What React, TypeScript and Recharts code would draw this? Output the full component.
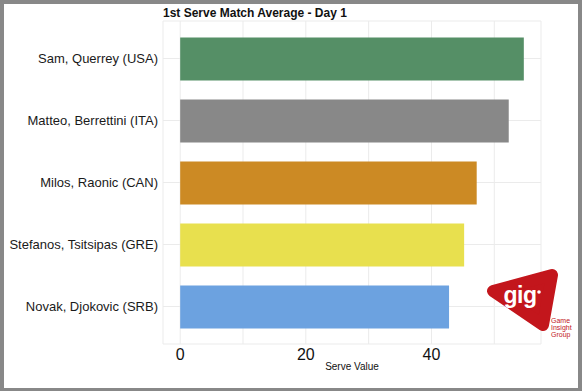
import { Bar, BarChart, CartesianGrid, Cell, XAxis, YAxis } from "recharts";

const players = [
  "Sam, Querrey (USA)",
  "Matteo, Berrettini (ITA)",
  "Milos, Raonic (CAN)",
  "Stefanos, Tsitsipas (GRE)",
  "Novak, Djokovic (SRB)",
];
const serveValues = [54.7, 52.3, 47.2, 45.2, 42.8];
const barColors = ["#558f66", "#888888", "#cc8a24", "#e8e04e", "#6ca2e0"];
const xTicks = [0, 10, 20, 30, 40, 50];
const labelledTicks = [0, 20, 40];

const FONT = "'Liberation Sans', Arial, sans-serif";

const data = players.map((name, i) => ({ name, value: serveValues[i] }));

// single-line category label, recharts wraps long ones otherwise
function PlayerTick(props: any) {
  const { x, y, payload } = props;
  return (
    <text
      x={x}
      y={y}
      dy="0.35em"
      textAnchor="end"
      fill="#1a1a1a"
      fontSize={13}
      fontFamily={FONT}
    >
      {payload.value}
    </text>
  );
}

function GigLogo() {
  return (
    <svg
      width={582}
      height={391}
      style={{ position: "absolute", left: 0, top: 0, pointerEvents: "none" }}
    >
      <path
        d="M493 291 L552 275 L543 325 Z"
        fill="#c3161c"
        stroke="#c3161c"
        strokeWidth={12}
        strokeLinejoin="round"
      />
      <text
        x={520}
        y={303}
        textAnchor="middle"
        fill="#fff"
        fontFamily={FONT}
        fontWeight="bold"
        fontSize={23}
        letterSpacing={-0.5}
      >
        gig
      </text>
      <circle cx={539} cy={292} r={1.8} fill="#fff" />
      <g fill="#c3161c" fontFamily={FONT} fontSize={7}>
        <text x={551} y={323}>Game</text>
        <text x={551} y={330}>Insight</text>
        <text x={551} y={337}>Group</text>
      </g>
    </svg>
  );
}

export default function App() {
  return (
    <div
      style={{
        position: "absolute",
        left: 0,
        top: 0,
        width: 582,
        height: 391,
        background: "#fff",
        fontFamily: FONT,
      }}
    >
      <BarChart
        width={582}
        height={391}
        data={data}
        layout="vertical"
        margin={{ top: 21, right: 41, bottom: 0, left: 0 }}
      >
        <CartesianGrid stroke="#ebebeb" strokeWidth={1} />
        <XAxis
          type="number"
          domain={[-2.735, 57.435]}
          ticks={xTicks}
          tickFormatter={(v: number) => (labelledTicks.includes(v) ? String(v) : "")}
          axisLine={false}
          tickLine={false}
          tickSize={0}
          tickMargin={5}
          height={47}
          tick={{ fill: "#111", fontSize: 16, fontFamily: FONT }}
          label={{
            value: "Serve Value",
            position: "insideBottom",
            offset: 21,
            fill: "#111",
            fontSize: 10,
            fontFamily: FONT,
          }}
        />
        <YAxis
          type="category"
          dataKey="name"
          width={163}
          axisLine={false}
          tickLine={false}
          tickSize={0}
          tickMargin={5}
          padding={{ top: 6.5, bottom: 6.5 }}
          tick={<PlayerTick />}
        />
        <Bar dataKey="value" barSize={43} isAnimationActive={false}>
          {data.map((d, i) => (
            <Cell key={d.name} fill={barColors[i]} />
          ))}
        </Bar>
      </BarChart>
      <div
        style={{
          position: "absolute",
          left: 163,
          top: 6,
          fontSize: 12,
          fontWeight: "bold",
          color: "#111",
          whiteSpace: "nowrap",
        }}
      >
        1st Serve Match Average - Day 1
      </div>
      <GigLogo />
      <div
        style={{
          position: "absolute",
          left: 0,
          top: 0,
          width: 582,
          height: 391,
          boxSizing: "border-box",
          borderStyle: "solid",
          borderColor: "#888",
          borderWidth: "4px 4px 3px 4px",
          pointerEvents: "none",
        }}
      />
    </div>
  );
}
